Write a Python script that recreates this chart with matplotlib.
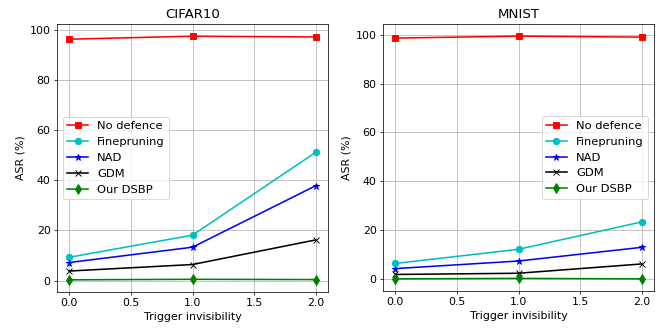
import matplotlib
matplotlib.use('Agg')
import matplotlib.pyplot as plt

x = [0.0, 1.0, 2.0]
labels = ['No defence', 'Finepruning', 'NAD', 'GDM', 'Our DSBP']
styles = ['rs-', 'co-', 'b*-', 'kx-', 'gd-']

cifar_none = [96.2, 97.4, 97.1]
cifar_fp = [9.3, 18.1, 51.1]
cifar_nad = [7.2, 13.3, 37.8]
cifar_gdm = [3.8, 6.4, 16.2]
cifar_dsbp = [0.3, 0.5, 0.4]

mnist_none = [98.6, 99.4, 99.0]
mnist_fp = [6.4, 12.2, 23.4]
mnist_nad = [4.3, 7.4, 13.0]
mnist_gdm = [1.9, 2.4, 6.2]
mnist_dsbp = [0.1, 0.3, 0.1]

# big figure drawn at low dpi, like the downscaled original
fig = plt.figure(figsize=(10, 329/66.2), dpi=66.2)
ax1 = fig.add_axes([57/662, 1-292/329, 271/662, 268/329])
ax2 = fig.add_axes([383/662, 1-291/329, 271/662, 267/329])

for ax, title, series, loc in [
        (ax1, 'CIFAR10', [cifar_none, cifar_fp, cifar_nad, cifar_gdm, cifar_dsbp], 'center left'),
        (ax2, 'MNIST', [mnist_none, mnist_fp, mnist_nad, mnist_gdm, mnist_dsbp], 'center right')]:
    for ys, st, lab in zip(series, styles, labels):
        ax.plot(x, ys, st, label=lab, markersize=7, linewidth=1.7)
    ax.set_title(title, fontsize=14.5)
    ax.set_xlabel('Trigger invisibility', fontsize=12)
    ax.set_ylabel('ASR (%)', fontsize=12)
    ax.tick_params(labelsize=12)
    ax.grid(True)
    ax.legend(loc=loc, fontsize=12.5, handlelength=1.8)

fig.savefig('out.png', dpi=66.2)
